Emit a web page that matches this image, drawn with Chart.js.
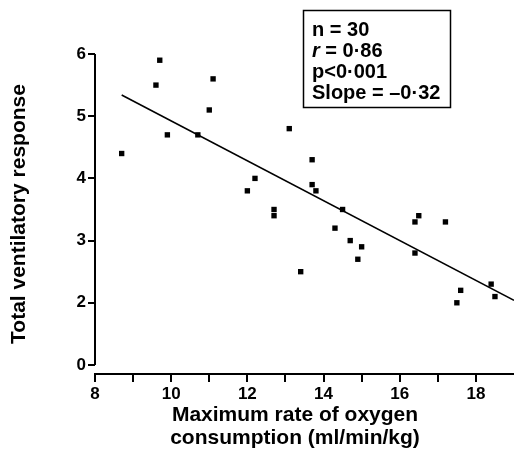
<!DOCTYPE html>
<html>
<head>
<meta charset="utf-8">
<title>Ventilatory response vs oxygen consumption</title>
<script src="https://cdn.jsdelivr.net/npm/chart.js@4.4.1/dist/chart.umd.min.js"></script>
<style>
    html, body { margin: 0; padding: 0; background: #fff; }
    #wrap { width: 514px; height: 452px; position: relative; }
</style>
</head>
<body>
<div id="wrap"><canvas id="chart"></canvas></div>
<script>
// Values.
var oxygenUptake = [8.7, 9.6, 9.7, 9.9, 10.7, 11.0, 11.1, 12.0, 12.2, 12.7,
    12.7, 13.1, 13.4, 13.7, 13.7, 13.8, 14.3, 14.5, 14.7, 14.9,
    15.0, 16.4, 16.4, 16.5, 17.2, 17.5, 17.6, 18.4, 18.5];
var ventResponse = [4.4, 5.5, 5.9, 4.7, 4.7, 5.1, 5.6, 3.8, 4.0, 3.5,
    3.4, 4.8, 2.5, 4.3, 3.9, 3.8, 3.2, 3.5, 3.0, 2.7,
    2.9, 3.3, 2.8, 3.4, 3.3, 2.0, 2.2, 2.3, 2.1];

// Regression line end points.
var fitX = [8.7, 19];
var fitY = [5.34, 2.04];

var xTicks = [8, 9, 10, 11, 12, 13, 14, 15, 16, 17, 18];
var yTicks = [1, 2, 3, 4, 5, 6];   // 1 is drawn as "0" (broken axis)
var xTitleLines = ['Maximum rate of oxygen', 'consumption (ml/min/kg)'];
var statsLines = ['n = 30', 'r = 0·86', 'p<0·001', 'Slope = –0·32'];

var FONT = '"Liberation Sans", Arial, Helvetica, sans-serif';

function toPoints(xs, ys) {
    return xs.map(function(x, i) { return {x: x, y: ys[i]}; });
}

// Draws the y axis line (stops at the "0" tick), the x title and the stats box.
var extrasPlugin = {
    id: 'extras',
    afterDraw: function(chart) {
        var ctx = chart.ctx;
        var ys = chart.scales.y;
        var x0 = chart.chartArea.left;
        ctx.save();
        ctx.strokeStyle = '#000';
        ctx.lineWidth = 2;
        ctx.beginPath();
        ctx.moveTo(x0, ys.getPixelForValue(6));
        ctx.lineTo(x0, ys.getPixelForValue(1));
        ctx.stroke();

        ctx.fillStyle = '#000';
        ctx.textBaseline = 'alphabetic';

        // x axis title, sits a little left of the plot centre in the original
        ctx.font = 'bold 21px ' + FONT;
        ctx.textAlign = 'center';
        ctx.fillText(xTitleLines[0], 295, 421);
        ctx.fillText(xTitleLines[1], 295, 444);
        ctx.textAlign = 'left';

        // stats box
        ctx.lineWidth = 1.5;
        ctx.strokeRect(303.5, 10.5, 147, 97);
        var baseY = 35.5;
        statsLines.forEach(function(line, i) {
            var y = baseY + i * 21;
            if (i === 1) {
                ctx.font = 'italic bold 20px ' + FONT;
                ctx.fillText('r', 312, y);
                var w = ctx.measureText('r').width;
                ctx.font = 'bold 20px ' + FONT;
                ctx.fillText(line.slice(1), 312 + w, y);
            } else {
                ctx.font = 'bold 20px ' + FONT;
                ctx.fillText(line, 312, y);
            }
        });
        ctx.restore();
    }
};

new Chart(document.getElementById('chart'), {
    type: 'scatter',
    data: {
        datasets: [{
            label: 'Subjects',
            data: toPoints(oxygenUptake, ventResponse),
            pointStyle: 'rect',
            radius: 3.8,
            backgroundColor: '#000',
            borderColor: '#000',
            borderWidth: 0
        }, {
            type: 'line',
            label: 'Fit',
            data: toPoints(fitX, fitY),
            borderColor: '#000',
            borderWidth: 1.6,
            pointRadius: 0,
            fill: false
        }]
    },
    options: {
        responsive: true,
        maintainAspectRatio: false,
        animation: false,
        layout: {autoPadding: false, padding: {left: 0, right: 0, top: 54, bottom: 0}},
        plugins: {legend: {display: false}, tooltip: {enabled: false}},
        scales: {
            x: {
                type: 'linear',
                min: 8,
                max: 19,
                afterBuildTicks: function(s) {
                    s.ticks = xTicks.map(function(v) { return {value: v}; });
                },
                afterFit: function(s) { s.height = 78; },
                grid: {
                    drawOnChartArea: false,
                    drawTicks: true,
                    tickLength: 8,
                    color: '#000',
                    lineWidth: 2
                },
                border: {display: true, color: '#000', width: 2},
                ticks: {
                    autoSkip: false,
                    maxRotation: 0,
                    padding: 2,
                    color: '#000',
                    font: {family: FONT, size: 17, weight: 'bold'},
                    callback: function(v) { return v % 2 === 0 ? v : ''; }
                },
                title: {display: false}
            },
            y: {
                type: 'linear',
                min: 0.855,
                max: 6,
                afterBuildTicks: function(s) {
                    s.ticks = yTicks.map(function(v) { return {value: v}; });
                },
                afterFit: function(s) { s.width = 95; },
                grid: {
                    drawOnChartArea: false,
                    drawTicks: true,
                    tickLength: 7,
                    color: '#000',
                    lineWidth: 2
                },
                border: {display: false},
                ticks: {
                    padding: 2,
                    color: '#000',
                    font: {family: FONT, size: 17, weight: 'bold'},
                    callback: function(v) { return v === 1 ? '0' : v; }
                },
                title: {
                    display: true,
                    text: 'Total ventilatory response',
                    color: '#000',
                    font: {family: FONT, size: 21, weight: 'bold'},
                    padding: {top: 7, bottom: 0}
                }
            }
        }
    },
    plugins: [extrasPlugin]
});
</script>
</body>
</html>
